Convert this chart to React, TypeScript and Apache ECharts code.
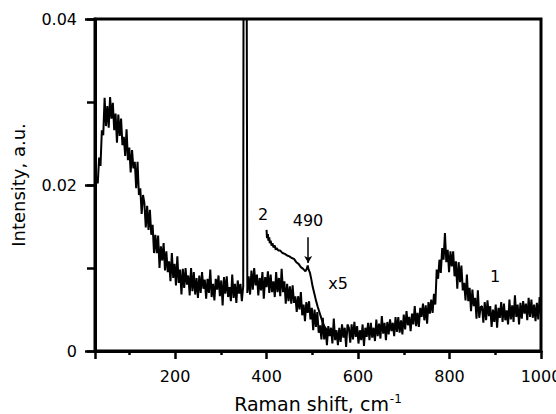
import React, { useEffect, useRef } from "react";
import * as echarts from "echarts";

// Raman shift (cm-1) / intensity (a.u.) pairs (trace 1)
const spectrum1: [number, number][] = [
  [25,0.017],[28,0.021],[31,0.0202],[34,0.0233],[37,0.0223],[40,0.0266],[43,0.026],[46,0.0305],[49,0.0271],[52,0.0295],[55,0.0269],[58,0.0306],[61,0.028],[64,0.0299],[67,0.0266],[70,0.0286],[73,0.0251],[76,0.0285],[79,0.0259],[82,0.028],[85,0.0248],[88,0.0258],[91,0.0235],[94,0.0267],[97,0.023],[100,0.0245],[103,0.0215],[106,0.0242],[109,0.022],[112,0.0228],[115,0.0196],[118,0.0228],[121,0.0188],[124,0.0196],[127,0.0165],[130,0.0188],
  [133,0.0178],[136,0.0149],[139,0.0175],[142,0.0146],[145,0.017],[148,0.014],[151,0.0152],[154,0.0118],[157,0.014],[160,0.0118],[163,0.0139],[166,0.01],[169,0.0126],[172,0.0109],[175,0.013],[178,0.0097],[181,0.012],[184,0.0095],[187,0.0108],[190,0.0084],[193,0.0118],[196,0.0088],[199,0.0105],[202,0.0079],[205,0.0114],[208,0.0082],[211,0.0098],[214,0.0068],[217,0.0099],[220,0.0076],[223,0.01],[226,0.008],[229,0.0091],[232,0.0067],[235,0.01],[238,0.0072],[241,0.0095],[244,0.0068],[247,0.0088],[250,0.0064],
  [253,0.0091],[256,0.007],[259,0.0095],[262,0.0075],[265,0.0086],[268,0.0063],[271,0.0087],[274,0.007],[277,0.0098],[280,0.0065],[283,0.0081],[286,0.0061],[289,0.0087],[292,0.0074],[295,0.0091],[298,0.0066],[301,0.0085],[304,0.0055],[307,0.0089],[310,0.0069],[313,0.009],[316,0.0065],[319,0.0077],[322,0.006],[325,0.0092],[328,0.0064],[331,0.0081],[334,0.0058],[337,0.0085],[340,0.0069],[343,0.0081],[346,0.006],[349,0.0078],[350,0.06],[356,0.06],[358,0.007],
  [361,0.009],[364,0.0068],[367,0.0097],[370,0.0074],[373,0.01],[376,0.0079],[379,0.0092],[382,0.0067],[385,0.0088],[388,0.0073],[391,0.0095],[394,0.0063],[397,0.0089],[400,0.0077],[403,0.0096],[406,0.007],[409,0.0092],[412,0.0071],[415,0.0084],[418,0.0065],[421,0.0095],[424,0.0071],[427,0.0088],[430,0.0066],[433,0.0099],[436,0.0071],[439,0.0084],[442,0.0057],[445,0.0081],[448,0.006],
  [451,0.0078],[454,0.0057],[457,0.0079],[460,0.0058],[463,0.0066],[466,0.0047],[469,0.0066],[472,0.005],[475,0.0071],[478,0.0043],[481,0.0056],[484,0.0036],[487,0.0059],[490,0.0046],[493,0.006],[496,0.0038],[499,0.0052],[502,0.0025],[505,0.005],[508,0.0029],[511,0.0047],[514,0.0022],[517,0.0031],[520,0.0014],[523,0.004],[526,0.0014],[529,0.0028],[532,0.0007],[535,0.003],[538,0.0018],[541,0.0028],[544,0.0009],[547,0.0039],[550,0.0013],[553,0.0025],[556,0.0007],[559,0.0028],[562,0.0011],[565,0.0032],[568,0.0016],[571,0.0028],[574,0.0005],[577,0.0032],
  [580,0.0028],[583,0.001],[586,0.0032],[589,0.0014],[592,0.0035],[595,0.0017],[598,0.003],[601,0.0009],[604,0.0025],[607,0.0013],[610,0.0032],[613,0.0006],[616,0.0028],[619,0.0017],[622,0.0034],[625,0.0013],[628,0.0034],[631,0.0016],[634,0.0028],[637,0.0012],[640,0.0038],[643,0.0018],[646,0.0033],[649,0.0015],[652,0.0042],[655,0.0021],[658,0.0034],[661,0.0013],[664,0.0035],[667,0.002],[670,0.0038],[673,0.0024],[676,0.0034],[679,0.0018],[682,0.0041],[685,0.0023],[688,0.0041],[691,0.0022],[694,0.0037],[697,0.002],[700,0.0044],[703,0.0026],[706,0.0048],[709,0.0031],[712,0.0041],[715,0.0024],[718,0.0045],[721,0.0032],[724,0.0054],[727,0.003],[730,0.0046],[733,0.0029],[736,0.0052],[739,0.0041],[742,0.0057],[745,0.0037],[748,0.0055],[751,0.0033],[754,0.0059],[757,0.0045],[760,0.0062],[763,0.0046],
  [766,0.0069],[769,0.0056],[772,0.0098],[775,0.0087],[778,0.011],[781,0.0094],[784,0.0124],[787,0.011],[790,0.0142],[793,0.0107],[796,0.0122],[799,0.0095],[802,0.012],[805,0.0102],[808,0.012],[811,0.009],[814,0.0108],[817,0.0075],[820,0.0107],[823,0.0083],[826,0.0103],[829,0.0073],[832,0.0082],[835,0.0061],[838,0.0092],[841,0.006],[844,0.0076],[847,0.0048],[850,0.0074],[853,0.0054],[856,0.0064],[859,0.0039],[862,0.0073],[865,0.004],[868,0.0053],
  [871,0.0054],[874,0.0034],[877,0.0059],[880,0.0037],[883,0.0061],[886,0.0042],[889,0.0054],[892,0.0029],[895,0.005],[898,0.0035],[901,0.0056],[904,0.0028],[907,0.0052],[910,0.004],[913,0.0059],[916,0.0035],[919,0.0057],[922,0.0037],[925,0.0049],[928,0.0032],[931,0.0062],[934,0.0038],[937,0.0055],[940,0.0035],[943,0.0067],[946,0.0041],[949,0.0056],[952,0.0032],[955,0.0058],[958,0.0039],[961,0.006],[964,0.0045],[967,0.0057],[970,0.0037],[973,0.0064],[976,0.0041],[979,0.0062],[982,0.004],[985,0.0056],[988,0.0036],[991,0.0058],[994,0.0038],[997,0.0065],[1000,0.0043],
];

// trace 2 (x5)
const spectrum2: [number, number][] = [
  [400, 0.0146], [401, 0.0136], [403, 0.0141], [404, 0.0133], [406, 0.0137], [407, 0.013], [409, 0.0133], [411, 0.0127],
  [413, 0.013], [415, 0.0125], [418, 0.0127], [420, 0.0122], [422, 0.0124], [426, 0.0121], [430, 0.0121], [435, 0.0118],
  [440, 0.0117], [445, 0.0115], [450, 0.0114], [455, 0.0112], [460, 0.0111], [465, 0.0107], [470, 0.0105], [475, 0.0101],
  [480, 0.0099], [485, 0.0096], [488, 0.0099], [490, 0.0103], [492, 0.0098], [495, 0.0094], [498, 0.0086], [501, 0.0077],
  [505, 0.0068], [508, 0.0061], [512, 0.0053], [516, 0.0046], [520, 0.0039], [523, 0.0034], [527, 0.0029], [532, 0.0025],
  [540, 0.0021], [550, 0.0019], [560, 0.002],
];

const xMajorTicks = [25, 200, 400, 600, 800, 1000];
const xLabels = [200, 400, 600, 800, 1000];
const xMinorTicks = [100, 300, 500, 700, 900];
const arrowShift = 491;
const arrowFrom = 0.0137;
const arrowTo = 0.0106;

const FONT = "DejaVu Sans";

export default function App() {
  const ref = useRef<HTMLDivElement>(null);
  useEffect(() => {
    if (!ref.current) return;
    const chart = echarts.init(ref.current, undefined, { renderer: "svg" });
    const axisLineStyle = { color: "#000", width: 3 };
    chart.setOption({
      animation: false,
      textStyle: { fontFamily: FONT, color: "#000" },
      grid: { left: 95, right: 15, top: 19, bottom: 63, show: true, borderColor: "#000", borderWidth: 3, outerBoundsMode: "none", containLabel: false },
      xAxis: [
        {
          type: "value",
          min: 25,
          max: 1000,
          position: "bottom",
          axisLine: { show: true, lineStyle: axisLineStyle },
          axisTick: { show: true, inside: false, length: 8, customValues: xMajorTicks, lineStyle: { color: "#000", width: 2.5 } },
          axisLabel: { show: true, customValues: xLabels, fontSize: 16, fontFamily: FONT, color: "#000", margin: 17, formatter: (v: number) => String(v) },
          splitLine: { show: false },
          name: "Raman shift, cm{sup|-1}",
          nameLocation: "middle",
          nameGap: 42,
          nameTextStyle: {
            fontSize: 19,
            fontFamily: FONT,
            color: "#000",
            rich: { sup: { fontSize: 12, fontFamily: FONT, color: "#000", verticalAlign: "top", padding: [0, 0, 10, 1] } },
          },
        },
        {
          type: "value",
          min: 25,
          max: 1000,
          position: "bottom",
          axisLine: { show: false },
          axisTick: { show: true, inside: false, length: 4, customValues: xMinorTicks, lineStyle: { color: "#000", width: 2.5 } },
          axisLabel: { show: false },
          splitLine: { show: false },
        },
      ],
      yAxis: [
        {
          type: "value",
          min: 0,
          max: 0.04,
          interval: 0.02,
          position: "left",
          axisLine: { show: true, lineStyle: axisLineStyle },
          axisTick: { show: true, inside: false, length: 10, lineStyle: { color: "#000", width: 2.5 } },
          axisLabel: {
            fontSize: 16,
            fontFamily: FONT,
            color: "#000",
            margin: 18,
            formatter: (v: number) => (v === 0 ? "0" : v.toFixed(2)),
          },
          splitLine: { show: false },
          name: "Intensity, a.u.",
          nameLocation: "middle",
          nameGap: 68,
          nameTextStyle: { fontSize: 18, fontFamily: FONT, color: "#000" },
        },
        {
          type: "value",
          min: 0,
          max: 0.04,
          interval: 0.01,
          position: "left",
          axisLine: { show: false },
          axisTick: { show: true, inside: false, length: 8, lineStyle: { color: "#000", width: 2.5 } },
          axisLabel: { show: false },
          splitLine: { show: false },
        },
      ],
      series: [
        {
          type: "line",
          data: spectrum1,
          xAxisIndex: 0,
          yAxisIndex: 0,
          showSymbol: false,
          symbol: "none",
          clip: true,
          lineStyle: { color: "#000", width: 2 },
        },
        {
          type: "line",
          data: spectrum2,
          xAxisIndex: 0,
          yAxisIndex: 0,
          showSymbol: false,
          symbol: "none",
          clip: true,
          lineStyle: { color: "#000", width: 2 },
          markLine: {
            silent: true,
            symbol: ["none", "arrow"],
            symbolSize: [6, 7],
            label: { show: false },
            lineStyle: { color: "#000", width: 1.5, type: "solid" },
            data: [[{ coord: [arrowShift, arrowFrom] }, { coord: [arrowShift, arrowTo] }]],
          },
        },
      ],
      graphic: [
        { type: "text", x: 263, y: 214, style: { text: "2", font: `16px '${FONT}'`, fill: "#000", align: "center", verticalAlign: "middle" } },
        { type: "text", x: 308, y: 220, style: { text: "490", font: `16px '${FONT}'`, fill: "#000", align: "center", verticalAlign: "middle" } },
        { type: "text", x: 338, y: 283, style: { text: "x5", font: `16px '${FONT}'`, fill: "#000", align: "center", verticalAlign: "middle" } },
        { type: "text", x: 495, y: 276, style: { text: "1", font: `16px '${FONT}'`, fill: "#000", align: "center", verticalAlign: "middle" } },
      ],
    });
    return () => chart.dispose();
  }, []);
  return <div ref={ref} style={{ position: "fixed", left: 0, top: 0, width: 556, height: 414, background: "#fff" }} />;
}
